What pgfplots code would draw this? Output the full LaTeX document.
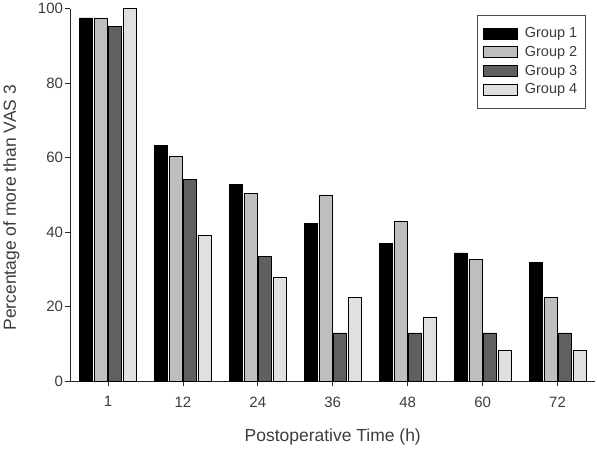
\documentclass[border=0pt]{standalone}
\usepackage{fontspec}
\setmainfont{Liberation Sans}
\usepackage{pgfplots}
\pgfplotsset{compat=1.18}
\definecolor{g2}{RGB}{190,190,190}
\definecolor{g3}{RGB}{96,96,96}
\definecolor{g4}{RGB}{224,224,224}
\definecolor{txt}{RGB}{60,60,60}
\begin{document}
\begin{tikzpicture}
\begin{axis}[
  scale only axis, width=525pt, height=372.7pt,
  xmin=-0.5, xmax=6.5, ymin=0, ymax=100,
  axis x line*=bottom, axis y line*=left,
  axis line style={-, line width=0.7pt, black!85},
  ybar=1.5pt, bar width=13pt,
  xtick={0,...,6}, xticklabels={1,12,24,36,48,60,72},
  ytick={0,20,...,100},
  tick align=outside, major tick length=5pt,
  tick style={black!85, line width=0.7pt},
  /pgf/number format/assume math mode=true,
  ticklabel style={font=\fontsize{15}{18}\selectfont, text=txt},
  xticklabel style={yshift=-7pt},
  yticklabel style={xshift=1pt},
  xlabel={Postoperative Time (h)},
  ylabel={Percentage of more than VAS 3},
  xlabel style={at={(axis description cs:0.5,-0.1637)}, anchor=base},
  ylabel style={at={(axis description cs:-0.1038,0.465)}, anchor=base, rotate=0},
  label style={font=\fontsize{17.5}{20}\selectfont, text=txt},
  legend style={at={(1,1)}, anchor=north east, xshift=-9pt, yshift=-6pt,
    draw=black!70, line width=0.6pt, font=\fontsize{14.5}{16}\selectfont, text=txt,
    row sep=3.2pt, inner xsep=6.5pt, inner ysep=10.5pt, cells={anchor=west}},
  mylegend/.style={legend image code/.code={\draw[##1, draw=black, line width=0.4pt] (0pt,-5.5pt) rectangle (34pt,5.5pt); \path (39pt,0pt);}},
]
\addplot[fill=black, draw=black, line width=0.5pt, mylegend] coordinates {(0,97.5) (1,63.3) (2,52.9) (3,42.4) (4,36.9) (5,34.4) (6,31.8)};
\addplot[fill=g2, draw=black, line width=0.5pt, mylegend] coordinates {(0,97.5) (1,60.3) (2,50.3) (3,50.0) (4,42.9) (5,32.6) (6,22.4)};
\addplot[fill=g3, draw=black, line width=0.5pt, mylegend] coordinates {(0,95.2) (1,54.1) (2,33.5) (3,12.9) (4,12.9) (5,12.9) (6,12.9)};
\addplot[fill=g4, draw=black, line width=0.5pt, mylegend] coordinates {(0,100) (1,39.2) (2,27.9) (3,22.4) (4,17.0) (5,8.2) (6,8.2)};
\legend{Group 1, Group 2, Group 3, Group 4}
\end{axis}
\path (current axis.south west) ++(-70pt,-63.3pt) rectangle ++(597pt,444pt);
\end{tikzpicture}
\end{document}
